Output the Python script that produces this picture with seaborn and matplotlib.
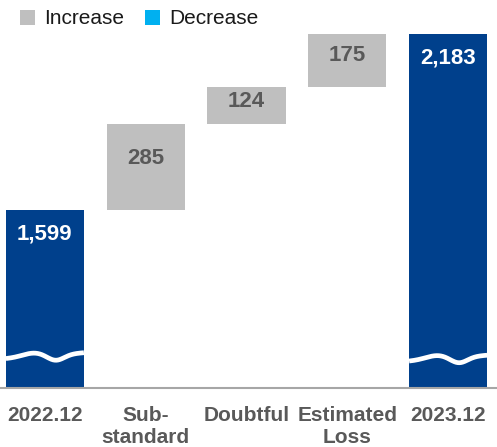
import numpy as np
import pandas as pd
import matplotlib
matplotlib.use("Agg")
import matplotlib.pyplot as plt
import matplotlib.transforms as mtransforms
from matplotlib.lines import Line2D
import seaborn as sns

# Waterfall: balance at start, increases by category, balance at end
categories = ["2022.12", "Sub-\nstandard", "Doubtful", "Estimated\nLoss", "2023.12"]
start_total = 1599
increases = [285, 124, 175]
end_total = 2183
value_labels = ["1,599", "285", "124", "175", "2,183"]

NAVY = "#00408C"
GRAY = "#BFBFBF"
CYAN = "#00B0F0"
TEXT_GRAY = "#595959"

sns.set_theme(style="white")
plt.rcParams["font.family"] = ["Liberation Sans", "DejaVu Sans"]

W, H = 497, 447
AX_H = 388
fig = plt.figure(figsize=(W / 100, H / 100), dpi=100)
ax = fig.add_axes([0, (H - AX_H) / H, 1, AX_H / H])

# totals (start and end balances)
totals = pd.DataFrame({
    "category": [categories[0], categories[-1]],
    "value": [start_total, end_total],
})
bar_w = 0.774
sns.barplot(data=totals, x="category", y="value", order=categories,
            color=NAVY, saturation=1, width=bar_w, ax=ax, linewidth=0)

# floating increase boxes
bottoms = start_total + np.concatenate([[0], np.cumsum(increases)[:-1]])
inc_x = np.arange(1, 1 + len(increases))
ax.bar(inc_x, increases, bottom=bottoms, width=bar_w, color=GRAY, linewidth=0)

ax.set_xlim(-0.4455, 4.485)
ax.set_ylim(1008, 2296)

# axis break squiggle across the total bars (height in pixels above the baseline)
blend = mtransforms.blended_transform_factory(ax.transData, ax.transAxes)
t = np.linspace(0, 1, 300)
wave_px = (29.3 + 6 * t
           + 3.6 * np.exp(-((t - 0.35) / 0.2) ** 2)
           - 5.8 * np.exp(-((t - 0.64) / 0.15) ** 2))
for xc, shift in ((0, 0.0), (len(categories) - 1, -2.5)):
    xs = xc - bar_w / 2 + t * bar_w
    ax.plot(xs, (wave_px + shift) / AX_H, color="white", lw=3.4, transform=blend,
            solid_capstyle="butt", zorder=5)

# value labels
tops = [start_total] + list(bottoms + np.array(increases)) + [end_total]
for i, (lab, top) in enumerate(zip(value_labels, tops)):
    if i in (0, len(categories) - 1):
        ax.annotate(lab, (i, top), xytext=(0, -17), textcoords="offset points",
                    ha="center", va="center", color="white",
                    fontsize=16, fontweight="bold", zorder=6)
    else:
        h = increases[i - 1]
        ax.annotate(lab, (i, top - 0.4 * h), ha="center", va="center",
                    color=TEXT_GRAY, fontsize=16, fontweight="bold", zorder=6)

# axes styling
for s in ("top", "left", "right"):
    ax.spines[s].set_visible(False)
ax.spines["bottom"].set_color("#A6A6A6")
ax.spines["bottom"].set_linewidth(1.5)
ax.set_yticks([])
ax.set_xlabel("")
ax.set_ylabel("")
ax.tick_params(axis="x", length=0, pad=13, labelsize=15, labelcolor=TEXT_GRAY)
for lbl in ax.get_xticklabels():
    lbl.set_fontweight("bold")
    lbl.set_linespacing(1.2)

# legend
handles = [
    Line2D([], [], marker="s", ls="none", markersize=10.8, color=GRAY,
           markeredgewidth=0, label="Increase"),
    Line2D([], [], marker="s", ls="none", markersize=10.8, color=CYAN,
           markeredgewidth=0, label="Decrease"),
]
fig.legend(handles=handles, loc="upper left", ncol=2, frameon=False,
           fontsize=15, handlelength=0.8, handletextpad=0.4, columnspacing=0.95,
           borderpad=0, borderaxespad=0,
           bbox_to_anchor=(19 / W, 1 - 9.5 / H), labelcolor="#1a1a1a")

fig.savefig("out.png", dpi=100)
